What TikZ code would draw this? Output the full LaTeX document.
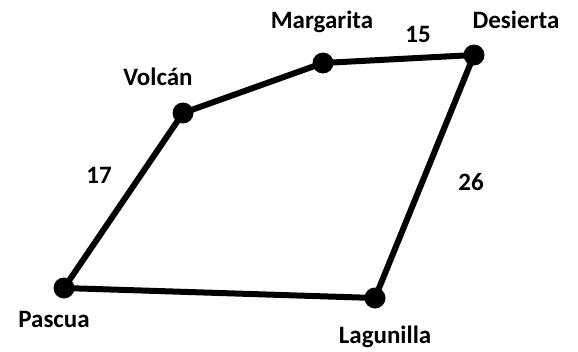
\documentclass[tikz,border=0pt]{standalone}
\usepackage{fontspec}
\setmainfont{Carlito}
\begin{document}
\begin{tikzpicture}[x=1pt,y=-1pt,
  dot/.style={circle,fill=black,inner sep=0pt,minimum size=21pt},
  lbl/.style={font=\bfseries\fontsize{25}{28}\selectfont,inner sep=0pt},
  edge/.style={line width=6pt,line join=round}]
\useasboundingbox (0,0) rectangle (578,351);
\node[dot] (V) at (183,113) {};
\node[dot] (M) at (323,63) {};
\node[dot] (D) at (474,55) {};
\node[dot] (L) at (375,298) {};
\node[dot] (P) at (64,288) {};
\draw[edge] (V.center) -- (M.center) -- (D.center) -- (L.center) -- (P.center) -- cycle;
\node[lbl] (tM) at (322,22) {Margarita};
\node[lbl] (t15) at (418,34) {15};
\node[lbl] (tD) at (516,20) {Desierta};
\node[lbl] (tV) at (158,77) {Volcán};
\node[lbl] (t17) at (99,175) {17};
\node[lbl] (t26) at (471,182) {26};
\node[lbl] (tP) at (54,319) {Pascua};
\node[lbl] (tL) at (385,337) {Lagunilla};
\end{tikzpicture}
\end{document}
